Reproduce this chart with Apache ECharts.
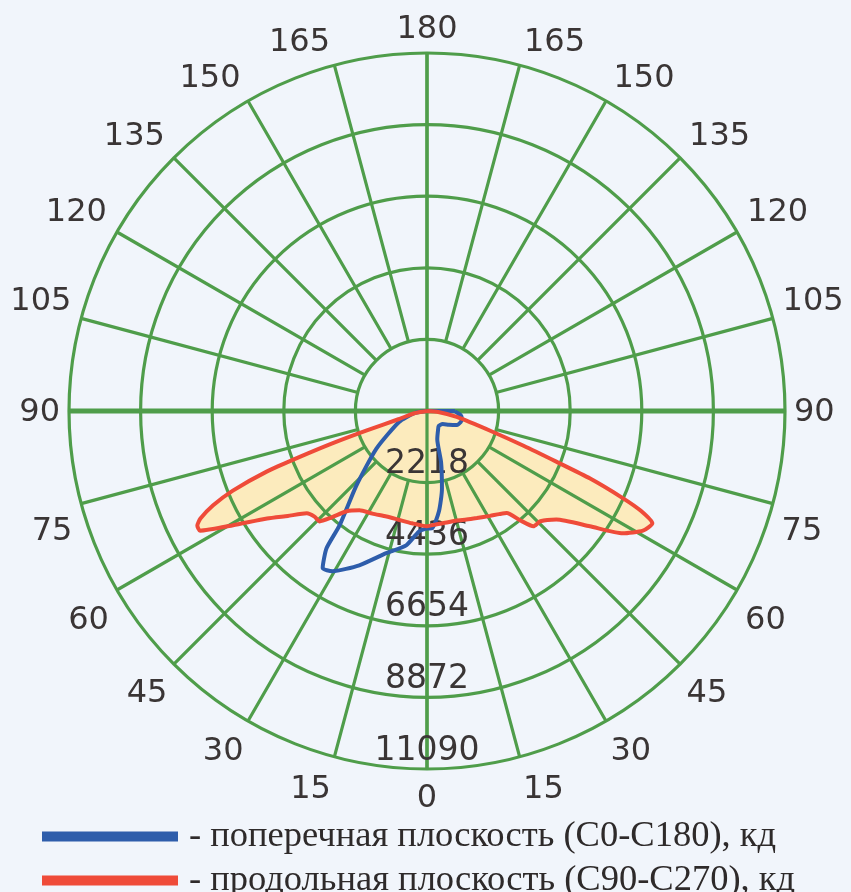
<!DOCTYPE html>
<html><head><meta charset="utf-8">
<script src="https://cdn.jsdelivr.net/npm/echarts@6/dist/echarts.min.js"></script>
<style>html,body{margin:0;padding:0;background:#f1f5fb}#c{width:851px;height:892px}</style>
</head><body><div id="c"></div>
<script>
// ---- data (angle in degrees from nadir, intensity in cd) ----
const ringMax = 11090;
const ringStep = 2218;
const angleStep = 15;

const redAnglesRight = [0, 5, 10, 15, 20, 25, 31, 35, 38, 40.5, 42.7, 45.8, 50, 54.7, 58, 61, 63.5, 65, 66, 67.5, 68.6, 70.2, 72.6, 78.7, 85, 90];
const redValuesRight = [3570, 3520, 3510, 3510, 3580, 3660, 3790, 3900, 4010, 4460, 4860, 4900, 5230, 6180, 7150, 7650, 7800, 7300, 6650, 5470, 4300, 3180, 2070, 940, 350, 0];
const redAnglesLeft = [0, 7.6, 15, 21, 28, 34.2, 38.7, 42, 44.2, 46.8, 49.6, 53, 56.1, 59.5, 62.2, 63.5, 64.6, 66.2, 67.7, 69.3, 70.2, 71.2, 72.2, 74, 80, 90];
const redValuesLeft = [3570, 3510, 3480, 3500, 3600, 3720, 3980, 4450, 4770, 4780, 4890, 5400, 5970, 6970, 7950, 7950, 7770, 7240, 6500, 5310, 4190, 3080, 1980, 900, 400, 0];

const blueAnglesRight = [0, 2.4, 6.8, 10.9, 15.4, 20, 29, 38, 50, 58, 65, 72, 77, 83, 88, 90];
const blueValuesRight = [3640, 3640, 3130, 2450, 1640, 930, 700, 590, 630, 800, 1020, 1100, 1110, 1050, 900, 870];
const blueAnglesLeft = [0, 3.8, 8.8, 16, 23.7, 30.5, 33.6, 36.2, 37.4, 43.4, 53.3, 68.6, 80, 90];
const blueValuesLeft = [3640, 3740, 4210, 4580, 5220, 5760, 5840, 5270, 4460, 3190, 1960, 930, 400, 0];

const legendNames = ['- поперечная плоскость (C0-C180), кд', '- продольная плоскость (C90-C270), кд'];

// ---- styles ----
const GREEN = '#4f9d4a';
const RED = '#ef4b39';
const BLUE = '#2e5dab';
const FILL = '#fcebbd';
const TXT = '#3a3535';
const CENTER = [427, 411];
const R = 358;
const LABEL_FONT = { fontSize: 32, fontFamily: 'DejaVu Sans', color: TXT };
// per-label nudge of angle tick labels: [outward horizontal px, downward px]
const labelNudge = {0: [0, 7], 15: [22, 10], 30: [1, 9], 45: [1.5, 8.5], 60: [2, 11.5], 75: [2, 26],
  90: [2, 2], 105: [3, -15], 120: [4, 0], 135: [4, 0], 150: [4, 0], 165: [33, 0], 180: [0, 0]};

function buildLoop(aR, vR, aL, vL, close) {
  const pts = [];
  for (let i = aR.length - 1; i >= 0; i--) pts.push([vR[i], aR[i]]);
  for (let i = 0; i < aL.length; i++) pts.push([vL[i], 360 - aL[i]]);
  if (close) pts.push(pts[0].slice());
  return pts;
}
const redLoop = buildLoop(redAnglesRight, redValuesRight, redAnglesLeft, redValuesLeft, false);
const blueLoop = buildLoop(blueAnglesRight, blueValuesRight, blueAnglesLeft, blueValuesLeft, true);

// rich styles replicating label offsets (ECharts aligns angle labels by quadrant)
const rich = {};
for (let v = 0; v < 360; v += angleStep) {
  const disp = v <= 180 ? v : 360 - v;
  const side = v === 0 || v === 180 ? 0 : (v < 180 ? 1 : -1);
  const rad = disp * Math.PI / 180;
  const hCenter = Math.abs(Math.sin(rad)) < 0.3;
  const vMiddle = Math.abs(Math.cos(rad)) < 0.3;
  const n = labelNudge[disp] || [0, 0];
  const dx = side * n[0], dy = n[1];
  let pT = 0, pR = 0, pB = 0, pL = 0;
  if (hCenter) { if (dx > 0) pL = 2 * dx; else pR = -2 * dx; }
  else { if (dx > 0) pL = dx; else pR = -dx; }
  if (vMiddle) { if (dy > 0) pT = 2 * dy; else pB = -2 * dy; }
  else if (Math.cos(rad) > 0) { pT = Math.max(0, dy); }
  else { pB = Math.max(0, -dy); }
  rich['a' + v] = Object.assign({ padding: [pT, pR, pB, pL] }, LABEL_FONT);
}

const angleBase = {
  type: 'value', min: 0, max: 360, startAngle: 270, clockwise: false,
  axisLine: { show: false }, axisTick: { show: false }, axisLabel: { show: false }
};

const chart = echarts.init(document.getElementById('c'));
chart.setOption({
  backgroundColor: '#f1f5fb',
  animation: false,
  polar: [
    { center: CENTER, radius: [0, R] },
    { center: CENTER, radius: [R / 5, R] },
    { center: CENTER, radius: [0, R] }
  ],
  angleAxis: [
    Object.assign({}, angleBase, { polarIndex: 0, interval: 90, z: 5,
      splitLine: { show: true, lineStyle: { color: GREEN, width: 3.2 } } }),
    Object.assign({}, angleBase, { polarIndex: 1, interval: angleStep, z: 5,
      splitLine: { show: true, lineStyle: { color: GREEN, width: 3.2 } },
      axisLabel: Object.assign({ show: true, margin: 7, rich: rich,
        formatter: v => '{a' + v + '|' + (v <= 180 ? v : 360 - v) + '}' }, LABEL_FONT) }),
    Object.assign({}, angleBase, { polarIndex: 2, interval: 90, z: 6,
      splitLine: { show: true, lineStyle: { color: ['rgba(0,0,0,0)', GREEN], width: 5 } } })
  ],
  radiusAxis: [
    { polarIndex: 0, type: 'value', min: 0, max: ringMax, interval: ringStep, z: 5,
      axisLine: { show: false }, axisTick: { show: false },
      splitLine: { show: true, lineStyle: { color: GREEN, width: 3.2 } },
      axisLabel: { show: true, showMinLabel: false, margin: 0, align: 'center', verticalAlign: 'bottom',
        lineHeight: 36, fontSize: 33, color: TXT, fontFamily: 'DejaVu Sans',
        formatter: v => v === 0 ? '' : String(v) } },
    { polarIndex: 1, type: 'value', min: 0, max: 1, show: false },
    { polarIndex: 2, type: 'value', min: 0, max: 1, show: false }
  ],
  legend: {
    data: legendNames, orient: 'vertical', left: 42, top: 818, height: 100, padding: 0, icon: 'rect',
    itemWidth: 136, itemHeight: 10, itemGap: 7, selectedMode: false,
    textStyle: { fontFamily: 'Liberation Serif', fontSize: 36.5, color: '#2e2a2a', lineHeight: 30, padding: [0, 0, 0, 6] }
  },
  series: [
    { type: 'line', coordinateSystem: 'polar', polarIndex: 0, data: redLoop, symbol: 'none', silent: true,
      lineStyle: { width: 0, opacity: 0 }, areaStyle: { color: FILL, opacity: 1 }, z: 1, smooth: 0.2 },
    { name: legendNames[0], type: 'line', coordinateSystem: 'polar', polarIndex: 0, data: blueLoop,
      symbol: 'none', color: BLUE, lineStyle: { color: BLUE, width: 4 }, z: 10, smooth: 0.2 },
    { name: legendNames[1], type: 'line', coordinateSystem: 'polar', polarIndex: 0, data: redLoop,
      symbol: 'none', color: RED, lineStyle: { color: RED, width: 4 }, z: 10, smooth: 0.2 }
  ]
});
</script>
</body></html>
